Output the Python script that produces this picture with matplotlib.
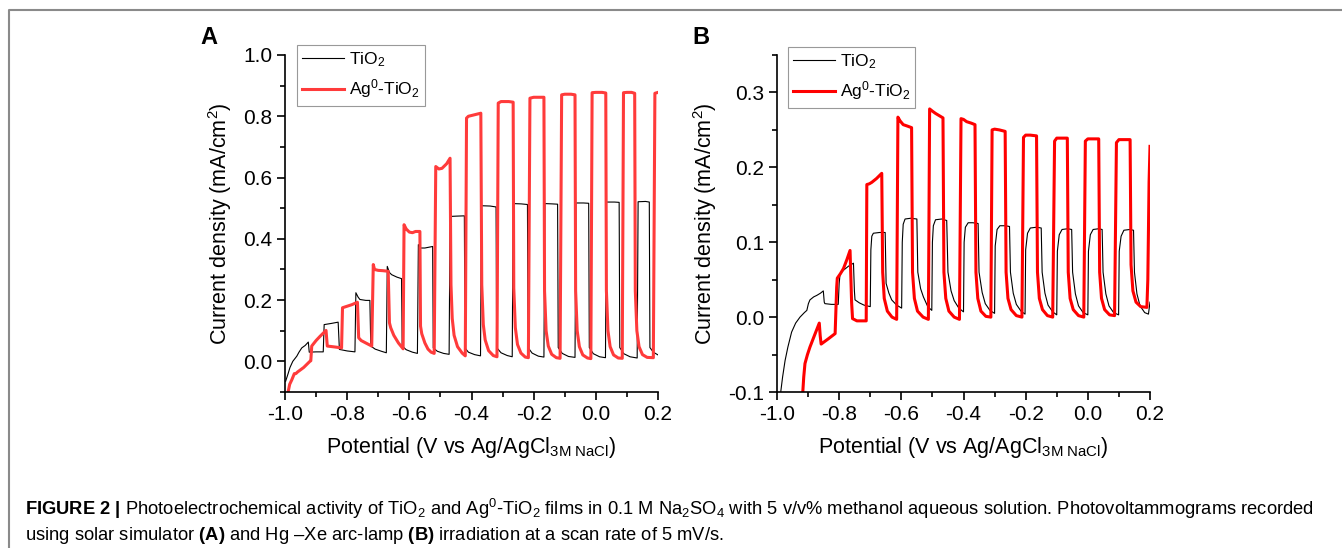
import numpy as np
import matplotlib
matplotlib.use('Agg')
import matplotlib.pyplot as plt
from matplotlib.lines import Line2D
from matplotlib.ticker import MultipleLocator

plt.rcParams['font.family'] = ['Liberation Sans', 'DejaVu Sans']
plt.rcParams['mathtext.fontset'] = 'custom'
plt.rcParams['mathtext.rm'] = 'Liberation Sans'
plt.rcParams['mathtext.it'] = 'Liberation Sans:italic'
plt.rcParams['mathtext.bf'] = 'Liberation Sans:bold'
plt.rcParams['axes.unicode_minus'] = False

# ---- panel A (solar simulator) ----
a_tio2 = [(-0.998, -0.065), (-0.99, -0.04), (-0.984, -0.02), (-0.975, 0.0), (-0.962, 0.017), (-0.955, 0.03),
          (-0.946, 0.044), (-0.935, 0.052), (-0.925, 0.063),
          (-0.922, 0.030), (-0.90, 0.031), (-0.877, 0.031),
          (-0.874, 0.12), (-0.85, 0.124), (-0.829, 0.128),
          (-0.825, 0.039), (-0.80, 0.034), (-0.775, 0.031),
          (-0.772, 0.224), (-0.765, 0.21), (-0.759, 0.202), (-0.74, 0.199), (-0.727, 0.199),
          (-0.724, 0.05), (-0.71, 0.04), (-0.69, 0.033), (-0.674, 0.028),
          (-0.671, 0.31), (-0.664, 0.29), (-0.657, 0.283), (-0.64, 0.275), (-0.625, 0.27),
          (-0.623, 0.05), (-0.61, 0.038), (-0.59, 0.03), (-0.574, 0.026),
          (-0.571, 0.381), (-0.563, 0.37), (-0.55, 0.37), (-0.525, 0.375),
          (-0.523, 0.044), (-0.51, 0.033), (-0.49, 0.026), (-0.472, 0.023),
          (-0.469, 0.473), (-0.45, 0.474), (-0.423, 0.475),
          (-0.421, 0.044), (-0.41, 0.03), (-0.39, 0.022), (-0.371, 0.018),
          (-0.368, 0.508), (-0.34, 0.507), (-0.321, 0.504),
          (-0.319, 0.045), (-0.305, 0.028), (-0.285, 0.019), (-0.269, 0.015),
          (-0.266, 0.515), (-0.24, 0.514), (-0.220, 0.512),
          (-0.218, 0.045), (-0.205, 0.027), (-0.185, 0.017), (-0.167, 0.014),
          (-0.164, 0.515), (-0.14, 0.514), (-0.123, 0.513),
          (-0.121, 0.045), (-0.108, 0.026), (-0.088, 0.016), (-0.067, 0.013),
          (-0.064, 0.517), (-0.04, 0.517), (-0.023, 0.516),
          (-0.021, 0.045), (-0.008, 0.025), (0.012, 0.015), (0.031, 0.012),
          (0.034, 0.52), (0.06, 0.52), (0.075, 0.519),
          (0.077, 0.045), (0.09, 0.025), (0.11, 0.015), (0.133, 0.011),
          (0.136, 0.521), (0.16, 0.522), (0.172, 0.52),
          (0.174, 0.045), (0.185, 0.03), (0.2, 0.021)]

a_ag = [(-0.99, -0.10), (-0.985, -0.075), (-0.978, -0.06), (-0.97, -0.04), (-0.965, -0.04), (-0.96, -0.035),
        (-0.94, -0.02), (-0.92, 0.0), (-0.917, 0.002),
        (-0.914, 0.05), (-0.90, 0.068), (-0.887, 0.082), (-0.868, 0.101),
        (-0.864, 0.05), (-0.84, 0.047), (-0.818, 0.044),
        (-0.815, 0.175), (-0.80, 0.18), (-0.785, 0.185), (-0.767, 0.193),
        (-0.763, 0.077), (-0.755, 0.068), (-0.74, 0.06), (-0.721, 0.05),
        (-0.716, 0.316), (-0.712, 0.30), (-0.70, 0.297), (-0.685, 0.296), (-0.668, 0.294),
        (-0.664, 0.126), (-0.66, 0.11), (-0.65, 0.085), (-0.635, 0.06), (-0.62, 0.041),
        (-0.617, 0.446), (-0.61, 0.432), (-0.60, 0.422), (-0.59, 0.42), (-0.58, 0.424), (-0.566, 0.424),
        (-0.564, 0.115), (-0.56, 0.09), (-0.55, 0.06), (-0.54, 0.04), (-0.53, 0.03), (-0.52, 0.026),
        (-0.515, 0.636), (-0.505, 0.628), (-0.495, 0.63), (-0.48, 0.645), (-0.469, 0.663),
        (-0.466, 0.25), (-0.462, 0.14), (-0.456, 0.085), (-0.445, 0.048), (-0.43, 0.027), (-0.42, 0.018),
        (-0.416, 0.794), (-0.41, 0.80), (-0.39, 0.805), (-0.37, 0.81),
        (-0.367, 0.25), (-0.362, 0.12), (-0.356, 0.07), (-0.345, 0.035), (-0.33, 0.019), (-0.318, 0.015),
        (-0.314, 0.843), (-0.305, 0.848), (-0.28, 0.848), (-0.266, 0.846),
        (-0.264, 0.24), (-0.259, 0.11), (-0.252, 0.055), (-0.241, 0.027), (-0.227, 0.014), (-0.217, 0.012),
        (-0.212, 0.859), (-0.20, 0.862), (-0.18, 0.862), (-0.167, 0.862),
        (-0.165, 0.23), (-0.16, 0.1), (-0.153, 0.05), (-0.142, 0.023), (-0.127, 0.012), (-0.115, 0.01),
        (-0.11, 0.87), (-0.10, 0.872), (-0.08, 0.872), (-0.067, 0.87),
        (-0.065, 0.23), (-0.06, 0.1), (-0.053, 0.048), (-0.042, 0.021), (-0.027, 0.011), (-0.016, 0.009),
        (-0.012, 0.877), (0.0, 0.878), (0.02, 0.878), (0.032, 0.876),
        (0.034, 0.23), (0.039, 0.1), (0.046, 0.048), (0.057, 0.021), (0.072, 0.011), (0.085, 0.01),
        (0.089, 0.877), (0.10, 0.878), (0.115, 0.878), (0.125, 0.875),
        (0.127, 0.23), (0.132, 0.1), (0.139, 0.048), (0.15, 0.022), (0.165, 0.013), (0.185, 0.012),
        (0.19, 0.875), (0.2, 0.878)]

# ---- panel B (Hg-Xe arc lamp) ----
b_tio2 = [(-0.988, -0.10), (-0.982, -0.08), (-0.974, -0.058), (-0.965, -0.04), (-0.953, -0.02), (-0.94, -0.008),
          (-0.926, 0.0), (-0.912, 0.006), (-0.904, 0.009), (-0.899, 0.018), (-0.894, 0.023), (-0.882, 0.027),
          (-0.872, 0.029), (-0.86, 0.032), (-0.851, 0.035),
          (-0.848, 0.020), (-0.846, 0.018), (-0.825, 0.017), (-0.803, 0.017),
          (-0.80, 0.045), (-0.797, 0.058), (-0.785, 0.063), (-0.77, 0.068), (-0.754, 0.072),
          (-0.751, 0.035), (-0.749, 0.023), (-0.735, 0.019), (-0.72, 0.016), (-0.70, 0.014),
          (-0.698, 0.09), (-0.695, 0.108), (-0.69, 0.112), (-0.67, 0.113), (-0.652, 0.113),
          (-0.649, 0.045), (-0.64, 0.032), (-0.631, 0.023), (-0.615, 0.016), (-0.599, 0.012),
          (-0.597, 0.10), (-0.594, 0.124), (-0.588, 0.131), (-0.57, 0.132), (-0.55, 0.131),
          (-0.547, 0.06), (-0.538, 0.038), (-0.529, 0.027), (-0.515, 0.014), (-0.502, 0.009),
          (-0.50, 0.10), (-0.497, 0.122), (-0.49, 0.13), (-0.47, 0.131), (-0.454, 0.129),
          (-0.45, 0.06), (-0.44, 0.035), (-0.43, 0.022), (-0.415, 0.012), (-0.40, 0.007),
          (-0.398, 0.10), (-0.394, 0.12), (-0.385, 0.126), (-0.37, 0.126), (-0.353, 0.125),
          (-0.35, 0.06), (-0.34, 0.033), (-0.33, 0.018), (-0.315, 0.009), (-0.30, 0.005),
          (-0.298, 0.095), (-0.292, 0.117), (-0.283, 0.122), (-0.265, 0.122), (-0.252, 0.121),
          (-0.249, 0.06), (-0.24, 0.032), (-0.23, 0.017), (-0.215, 0.008), (-0.202, 0.004),
          (-0.20, 0.09), (-0.194, 0.112), (-0.185, 0.119), (-0.165, 0.12), (-0.15, 0.119),
          (-0.147, 0.06), (-0.138, 0.032), (-0.128, 0.016), (-0.113, 0.007), (-0.10, 0.003),
          (-0.098, 0.088), (-0.092, 0.11), (-0.083, 0.117), (-0.065, 0.118), (-0.052, 0.117),
          (-0.049, 0.06), (-0.04, 0.031), (-0.03, 0.015), (-0.015, 0.006), (0.0, 0.003),
          (0.002, 0.088), (0.008, 0.11), (0.017, 0.117), (0.035, 0.118), (0.046, 0.117),
          (0.049, 0.06), (0.058, 0.031), (0.068, 0.015), (0.083, 0.006), (0.099, 0.003),
          (0.101, 0.088), (0.107, 0.108), (0.116, 0.116), (0.135, 0.117), (0.147, 0.116),
          (0.15, 0.06), (0.158, 0.031), (0.168, 0.015), (0.183, 0.006), (0.195, 0.004), (0.2, 0.02)]

b_ag = [(-0.917, -0.10), (-0.914, -0.08), (-0.91, -0.062), (-0.902, -0.05), (-0.894, -0.04), (-0.88, -0.025),
        (-0.864, -0.008),
        (-0.861, -0.025), (-0.858, -0.036), (-0.835, -0.029), (-0.813, -0.022),
        (-0.808, 0.04), (-0.806, 0.052), (-0.796, 0.058), (-0.786, 0.065), (-0.775, 0.077), (-0.765, 0.089),
        (-0.76, 0.02), (-0.757, -0.002), (-0.743, -0.005), (-0.713, -0.005),
        (-0.711, 0.177), (-0.703, 0.178), (-0.695, 0.18), (-0.68, 0.185), (-0.663, 0.192),
        (-0.66, 0.06), (-0.655, 0.025), (-0.645, 0.008), (-0.63, 0.0), (-0.615, -0.003),
        (-0.611, 0.267), (-0.604, 0.262), (-0.594, 0.257), (-0.58, 0.255), (-0.567, 0.253),
        (-0.564, 0.06), (-0.558, 0.025), (-0.548, 0.008), (-0.53, 0.0), (-0.513, -0.003),
        (-0.509, 0.278), (-0.50, 0.275), (-0.49, 0.272), (-0.478, 0.269), (-0.466, 0.266),
        (-0.463, 0.06), (-0.457, 0.025), (-0.447, 0.008), (-0.43, 0.0), (-0.413, -0.003),
        (-0.408, 0.265), (-0.40, 0.264), (-0.39, 0.261), (-0.375, 0.259), (-0.363, 0.257),
        (-0.36, 0.06), (-0.354, 0.025), (-0.344, 0.008), (-0.328, 0.001), (-0.312, 0.0),
        (-0.308, 0.25), (-0.30, 0.251), (-0.285, 0.25), (-0.266, 0.248),
        (-0.263, 0.06), (-0.257, 0.025), (-0.247, 0.01), (-0.23, 0.002), (-0.212, 0.0),
        (-0.207, 0.24), (-0.20, 0.243), (-0.185, 0.243), (-0.165, 0.242),
        (-0.162, 0.06), (-0.156, 0.025), (-0.146, 0.01), (-0.13, 0.002), (-0.113, 0.0),
        (-0.107, 0.235), (-0.10, 0.239), (-0.085, 0.239), (-0.066, 0.239),
        (-0.063, 0.06), (-0.057, 0.025), (-0.047, 0.01), (-0.03, 0.002), (-0.013, 0.0),
        (-0.008, 0.235), (0.0, 0.238), (0.015, 0.238), (0.035, 0.238),
        (0.038, 0.06), (0.044, 0.025), (0.054, 0.01), (0.07, 0.003), (0.086, 0.002),
        (0.092, 0.233), (0.1, 0.237), (0.115, 0.237), (0.136, 0.237),
        (0.139, 0.07), (0.145, 0.035), (0.155, 0.02), (0.17, 0.014), (0.19, 0.013),
        (0.193, 0.05), (0.197, 0.18), (0.2, 0.228)]

labels = ['TiO$_2$', 'Ag$^0$-TiO$_2$']
xlabel = 'Potential (V vs Ag/AgCl$_{\\mathrm{3M\\ NaCl}}$)'
ylabel = 'Current density (mA/cm$^2$)'

W, H = 1342, 548
fig = plt.figure(figsize=(W / 100, H / 100), dpi=100)


def setup(ax, ylim, ymaj, ymin_):
    ax.set_xlim(-1.0, 0.2)
    ax.set_ylim(*ylim)
    for s in ['top', 'right']:
        ax.spines[s].set_visible(False)
    for s in ['left', 'bottom']:
        ax.spines[s].set_linewidth(1.2)
    ax.xaxis.set_major_locator(MultipleLocator(0.2))
    ax.xaxis.set_minor_locator(MultipleLocator(0.1))
    ax.yaxis.set_major_locator(MultipleLocator(ymaj))
    ax.yaxis.set_minor_locator(MultipleLocator(ymin_))
    ax.xaxis.set_major_formatter(lambda v, p: f'{v:.1f}')
    ax.yaxis.set_major_formatter(lambda v, p: f'{v:.1f}')
    ax.tick_params(which='major', direction='out', length=6, width=1.2, labelsize=15, pad=3)
    ax.tick_params(which='minor', direction='out', length=3.5, width=1.2)
    ax.set_xlabel(xlabel, fontsize=15.5, labelpad=8)
    ax.set_ylabel(ylabel, fontsize=15.5, labelpad=7)


def legend(ax, x0, y0):
    lg = ax.legend(loc='upper left', bbox_to_anchor=(x0, y0), borderaxespad=0, fontsize=12.5,
                   fancybox=False, edgecolor='#999999', framealpha=1, handlelength=2.4,
                   handletextpad=0.28, borderpad=0.3, labelspacing=0.5)
    lg.get_frame().set_linewidth(0.8)


axA = fig.add_axes([285 / W, 1 - 392 / H, 373 / W, 337 / H])
a1 = np.array(a_tio2)
a2 = np.array(a_ag)
axA.plot(a1[:, 0], a1[:, 1], color='black', lw=0.8, label=labels[0])
axA.plot(a2[:, 0], a2[:, 1], color='#ff3b3b', lw=2.2, label=labels[1])
setup(axA, (-0.1, 1.0), 0.2, 0.1)
legend(axA, 0.032, 1.03)

axB = fig.add_axes([777 / W, 1 - 392 / H, 373 / W, 337 / H])
b1 = np.array(b_tio2)
b2 = np.array(b_ag)
axB.plot(b1[:, 0], b1[:, 1], color='black', lw=0.8, label=labels[0])
axB.plot(b2[:, 0], b2[:, 1], color='#ff0000', lw=2.2, label=labels[1])
setup(axB, (-0.1, 0.35), 0.1, 0.05)
legend(axB, 0.029, 1.024)

fig.text(209 / W, 1 - 38 / H, 'A', fontsize=17, fontweight='bold', ha='center', va='center')
fig.text(701 / W, 1 - 38 / H, 'B', fontsize=17, fontweight='bold', ha='center', va='center')

# figure frame (grey line at top and left)
fig.add_artist(Line2D([9 / W, 9 / W, 1], [0, 1 - 10 / H, 1 - 10 / H], transform=fig.transFigure,
                      color='#8a8a8a', lw=1.5))

cap1 = ('$\\mathbf{FIGURE\\ 2\\ |}$ Photoelectrochemical activity of TiO$_2$ and Ag$^0$-TiO$_2$ films in 0.1 M '
        'Na$_2$SO$_4$ with 5 v/v% methanol aqueous solution. Photovoltammograms recorded')
cap2 = 'using solar simulator $\\mathbf{(A)}$ and Hg \u2013Xe arc-lamp $\\mathbf{(B)}$ irradiation at a scan rate of 5 mV/s.'
fig.text(25 / W, 1 - 509 / H, cap1, fontsize=13.2, ha='left', va='center')
fig.text(25 / W, 1 - 535 / H, cap2, fontsize=13.2, ha='left', va='center')

fig.savefig('out.png', dpi=100)
